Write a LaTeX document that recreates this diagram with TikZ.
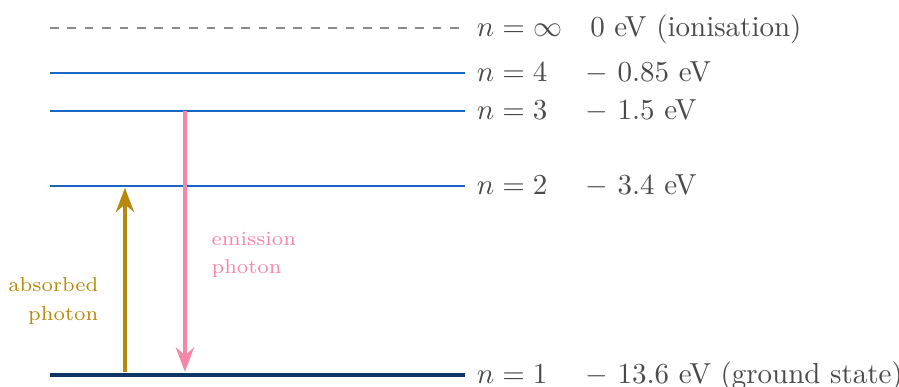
\documentclass[tikz,border=0pt]{standalone}
\usetikzlibrary{arrows.meta, positioning}
\definecolor{levelblue}{HTML}{1766C4}
\definecolor{groundblue}{HTML}{0D3565}
\definecolor{absorbgold}{HTML}{B8880C}
\definecolor{emitpink}{HTML}{F486A8}
\definecolor{textgray}{HTML}{4A4A4A}
\definecolor{limitgray}{HTML}{8A8A8A}

\begin{document}
\begin{tikzpicture}[
    >=Stealth,
    level/.style={levelblue, line width=0.8pt},
    state/.style={anchor=west, text=textgray, text height=1.6ex, text depth=0.25ex, inner sep=2pt},
    photon/.style={line width=1.2pt, ->},
    tag/.style={font=\fontsize{6.95}{9.8}\selectfont}
]
\useasboundingbox (0,0) rectangle (10.90,4.69);
% energy levels
\coordinate (inf_left) at (0.606,4.351);
\coordinate (inf_right) at (5.636,4.351);
\coordinate (four_left) at (0.606,3.806);
\coordinate (four_right) at (5.636,3.806);
\coordinate (three_left) at (0.606,3.345);
\coordinate (three_right) at (5.636,3.345);
\coordinate (two_left) at (0.606,2.436);
\coordinate (two_right) at (5.636,2.436);
\coordinate (one_left) at (0.606,0.145);
\coordinate (one_right) at (5.636,0.145);
\draw[limitgray, dashed, line width=0.6pt] (inf_left) -- (inf_right);
\draw[level] (four_left) -- (four_right);
\draw[level] (three_left) -- (three_right);
\draw[level] (two_left) -- (two_right);
\draw[groundblue, line width=1.2pt] (one_left) -- (one_right);
% level names
\node (inf_name) [state, right=0.07cm of inf_right] {$n=\infty$};
\node (four_name) [state, right=0.07cm of four_right] {$n=4$};
\node (three_name) [state, right=0.07cm of three_right] {$n=3$};
\node (two_name) [state, right=0.07cm of two_right] {$n=2$};
\node (one_name) [state, right=0.07cm of one_right] {$n=1$};
% energies
\node (inf_energy) [state, xshift=0.06cm] at (7.02,4.351) {0 eV (ionisation)};
\node (four_energy) [state] at (7.02,3.806) {$-$ 0.85 eV};
\node (three_energy) [state] at (7.02,3.345) {$-$ 1.5 eV};
\node (two_energy) [state] at (7.02,2.436) {$-$ 3.4 eV};
\node (one_energy) [state] at (7.02,0.145) {$-$ 13.6 eV (ground state)};
% transitions
\coordinate (absorb_start) at (1.515,0.182);
\coordinate (absorb_end) at (1.515,2.412);
\coordinate (emit_start) at (2.242,3.345);
\coordinate (emit_end) at (2.242,0.182);
\draw[photon, absorbgold] (absorb_start) -- node[tag, pos=0.386, left, xshift=-0.185cm, align=right, text=absorbgold] {absorbed\\photon} (absorb_end);
\draw[photon, emitpink] (emit_start) -- node[tag, pos=0.552, right, xshift=0.185cm, align=left, text=emitpink] {emission\\photon} (emit_end);
\end{tikzpicture}
\end{document}
